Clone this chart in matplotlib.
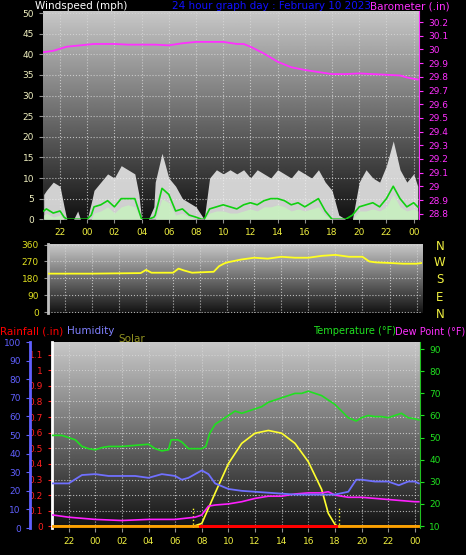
import matplotlib
matplotlib.use("Agg")
import matplotlib.pyplot as plt
import numpy as np

# hours since 00:00 of the previous day (24 = midnight)
hour_ticks = [22, 24, 26, 28, 30, 32, 34, 36, 38, 40, 42, 44, 46, 48]
hour_labels = ['22', '00', '02', '04', '06', '08', '10', '12', '14', '16', '18', '20', '22', '00']

# barometer (.in)
baro_t = [20.8, 21.5, 22.5, 23.5, 24.5, 26, 27, 28, 29, 30, 31, 32, 33, 34, 35, 35.5, 36, 37,
          38, 39, 40, 41, 42, 43, 44, 45, 46, 47, 47.5, 48.3]
baro = [29.98, 29.99, 30.02, 30.03, 30.04, 30.04, 30.035, 30.035, 30.035, 30.03, 30.045, 30.055,
        30.055, 30.055, 30.04, 30.04, 30.02, 29.97, 29.91, 29.87, 29.85, 29.835, 29.82, 29.82,
        29.825, 29.82, 29.815, 29.81, 29.795, 29.78]

# wind (mph), half hourly
wind_t = [20.8, 21.0, 21.5, 22.0, 22.3, 22.5, 23.0, 23.3, 23.5, 24.0, 24.3, 24.5, 25.0, 25.5, 26.0,
          26.5, 27.0, 27.5, 27.8, 28.0, 28.5, 28.9, 29.0, 29.5, 30.0, 30.5, 31.0, 31.5, 32.0, 32.4,
          32.6, 33.0, 33.5, 34.0, 34.5, 35.0, 35.5, 36.0, 36.5, 37.0, 37.5, 38.0, 38.5, 39.0, 39.5,
          40.0, 40.5, 41.0, 41.5, 42.0, 42.5, 43.0, 43.5, 44.0, 44.5, 45.0, 45.5, 46.0, 46.5, 47.0,
          47.5, 48.0, 48.3]
gust = [6, 7, 9, 8, 3, 0, 0, 2, 0, 0, 4, 7, 9, 11, 10, 13, 12, 11, 6, 0, 0, 3, 9, 16, 10, 8, 5, 4,
        3, 1, 0, 10, 12, 11, 12, 11, 12, 10, 12, 11, 10, 12, 11, 10, 12, 11, 10, 12, 9, 7, 1, 0, 0,
        9, 12, 10, 9, 13, 19, 12, 9, 11, 8]
avg = [2, 2.5, 1.5, 2, 0.5, 0, 0, 0, 0, 0, 1, 3, 3.5, 4.5, 3, 5, 5, 5, 2, 0, 0, 0.5, 1, 7.5, 6, 2,
       2.5, 1, 0.5, 0, 0, 2.5, 3, 3.5, 3, 2.5, 3.5, 4, 3.5, 4.5, 5, 5, 4.5, 3.5, 4, 3, 4, 5, 2, 0,
       0, 0, 1, 3, 3.5, 4, 3, 5, 8, 5, 3, 4, 3]
speed = [1, 1.5, 0.5, 1, 0, 0, 0, 0, 0, 0, 0, 1.5, 2, 3, 1.5, 3, 3.5, 3, 1, 0, 0, 0, 0, 5, 4, 1,
         1.5, 0.5, 0, 0, 0, 1.5, 2, 2, 1.5, 1.5, 2, 2.5, 2, 3, 3, 3.5, 3, 2, 2.5, 2, 2.5, 3, 1, 0,
         0, 0, 0, 2, 2, 2.5, 2, 3, 6, 3, 2, 2.5, 2]

# wind direction (deg)
dir_t = [20.8, 24, 27.6, 28, 28.4, 30, 30.4, 30.8, 31.4, 32, 33, 33.4, 33.8, 34, 35, 36, 37, 38, 39,
         40, 41, 42, 43, 44, 44.5, 45, 46, 47, 48, 48.4]
wind_dir = [205, 205, 208, 225, 210, 210, 232, 222, 210, 212, 215, 245, 260, 265, 280, 290, 285,
            295, 290, 290, 300, 305, 295, 295, 270, 265, 262, 258, 258, 262]

# temperature (F)
temp_t = [20.8, 21.5, 22.5, 23, 23.5, 24, 24.5, 25, 26, 27, 28, 28.5, 29, 29.5, 29.7, 30.2, 30.5,
          31, 31.5, 32, 32.3, 32.6, 33, 33.5, 34, 34.5, 35, 35.5, 36, 36.5, 37, 37.5, 38, 38.5,
          39, 39.5, 40, 40.5, 41, 41.5, 42, 42.5, 43, 43.6, 44, 44.5, 45, 45.5, 46, 46.5, 47,
          47.5, 48, 48.3]
temp = [51, 51, 49, 46, 45, 44.5, 45.5, 46, 46, 46.5, 47, 45, 44, 44.5, 49, 49, 48, 45, 45, 45,
        46, 52, 56, 58, 60, 62, 61, 62, 63, 64, 66, 67, 68, 69, 70, 70, 71, 70, 69, 67, 65, 62,
        59, 57.5, 59, 60, 59.5, 59.5, 59, 60, 61, 59, 58.5, 58]

# dew point (F)
dew_t = [20.8, 22, 24, 26, 28, 30, 31.5, 32, 32.5, 33, 34, 35, 36, 37, 38, 39, 40, 41, 41.5, 42,
         43, 44, 45, 46, 47, 48, 48.3]
dew = [15, 14, 13, 12.5, 13, 13, 14, 15, 19, 19.5, 20, 21, 22.5, 23.5, 23.5, 24.5, 25, 25, 25.5,
       24, 23, 23, 22.5, 22, 21.5, 21, 21]

# humidity (%)
hum_t = [20.8, 22, 23, 24, 25, 27, 28, 29, 30, 30.5, 31, 32, 32.5, 33, 34, 35, 36, 37, 38, 39, 40,
         41, 42, 43, 43.6, 44, 45, 46, 46.8, 47.5, 48, 48.3]
hum = [24, 24, 28.5, 29, 28, 28, 27, 29, 28, 26, 27, 31, 29, 24, 21, 20, 19.5, 19, 18.5, 18, 18,
       18, 18, 19.5, 26, 26, 25, 25, 23, 25, 25, 24]

# solar (W/m2)
solar_t = [20.8, 31.4, 32, 33, 34, 35, 36, 37, 38, 39, 40, 41, 41.5, 42, 42.2, 48.3]
solar = [0, 0, 15, 180, 340, 450, 505, 520, 505, 450, 350, 200, 70, 10, 0, 0]

# rainfall (.in)
rain_t = [31.9, 42.1]
rain = [0, 0]

fig = plt.figure(figsize=(4.66, 5.55), dpi=100, facecolor='black')
YEL = '#f0f040'
FS = 6.5


def background(ax):
    grad = np.linspace(0, 1, 256).reshape(-1, 1)
    ax.imshow(grad, aspect='auto', cmap='gray', vmin=-0.1, vmax=1.3, origin='lower',
              extent=(0, 1, 0, 1), transform=ax.transAxes, zorder=0)
    ax.set_facecolor('#303030')


def hour_axis(ax, labels=True):
    ax.set_xlim(20.75, 48.4)
    ax.set_xticks(hour_ticks)
    ax.set_xticklabels(hour_labels if labels else [], color=YEL, fontsize=FS)
    ax.grid(True, color='#d8d8d8', linestyle=':', linewidth=0.8, alpha=0.8)
    ax.tick_params(axis='x', colors='#909090', length=3, labelcolor=YEL)
    for s in ax.spines.values():
        s.set_visible(False)


# top: wind + barometer
ax1 = fig.add_axes([0.0923, 0.605, 0.807, 0.375])
background(ax1)
ax1.fill_between(wind_t, gust, color='#f0f0f0', alpha=0.85, zorder=2, linewidth=0)
ax1.fill_between(wind_t, speed, color='#c8f0c0', alpha=0.9, zorder=3, linewidth=0)
ax1.plot(wind_t, avg, color='#10d010', linewidth=1.2, zorder=4)
ax1.set_ylim(0, 50.5)
ax1.set_yticks(range(0, 51, 5))
ax1.tick_params(axis='y', colors='#909090', labelcolor='#f0f0c0', labelsize=FS, length=3)
hour_axis(ax1)
ax1b = ax1.twinx()
ax1b.plot(baro_t, baro, color='#ff30ff', linewidth=1.3)
ax1b.set_ylim(28.76, 30.28)
baro_ticks = np.round(np.arange(28.8, 30.21, 0.1), 1)
ax1b.set_yticks(baro_ticks)
ax1b.set_yticklabels([f'{v:g}' for v in baro_ticks])
ax1b.tick_params(axis='y', colors='#ff30ff', labelsize=FS, length=3)
for s in ax1b.spines.values():
    s.set_visible(False)
ax1b.spines['right'].set_visible(True)
ax1b.spines['right'].set_color('#ff30ff')

fig.text(0.075, 0.998, 'Windspeed (mph)', color='white', fontsize=7.5, va='top')
fig.text(0.37, 0.998, '24 hour graph day : February 10 2023', color='#1010ff', fontsize=7.5, va='top')
fig.text(0.795, 0.998, 'Barometer (.in)', color='#ff30ff', fontsize=7.5, va='top')

# middle: wind direction
ax2 = fig.add_axes([0.103, 0.436, 0.8026, 0.124])
background(ax2)
ax2.plot(dir_t, wind_dir, color='#ffff20', linewidth=1.3, zorder=3)
ax2.set_ylim(-5, 362)
ax2.set_yticks([0, 90, 180, 270, 360])
ax2.tick_params(axis='y', colors='#909090', labelcolor='#e0e020', labelsize=FS, length=3)
hour_axis(ax2, labels=False)
ax2.tick_params(axis='x', length=0)
ax2.spines['left'].set_visible(True)
ax2.spines['left'].set_color('#c0c0c0')
ax2.spines['left'].set_linewidth(2)
for lbl, yy in zip(['N', 'W', 'S', 'E', 'N'], [0.555, 0.527, 0.496, 0.464, 0.433]):
    fig.text(0.944, yy, lbl, color=YEL, fontsize=8.5, ha='center', va='center')

# bottom: rain / humidity / solar / temperature
ax3 = fig.add_axes([0.1116, 0.0486, 0.79, 0.335])
background(ax3)
hour_axis(ax3)
ax3.set_ylim(-0.01, 1.18)
ax3.set_yticks(np.round(np.arange(0, 1.11, 0.1), 1))
ax3.set_yticklabels([f'{v:g}' for v in np.round(np.arange(0, 1.11, 0.1), 1)])
ax3.tick_params(axis='y', colors='#ff2020', labelsize=FS, length=3)
ax3.spines['left'].set_visible(True)
ax3.spines['left'].set_color('white')
ax3.spines['left'].set_linewidth(2)

ax3s = ax3.twinx()
ax3s.plot(solar_t, solar, color='#ffff30', linewidth=1.2, zorder=4)
ax3s.axvline(31.35, ymax=0.12, color='#ffff30', linestyle=':', linewidth=1)
ax3s.axvline(42.3, ymax=0.12, color='#ffff30', linestyle=':', linewidth=1)
ax3s.set_ylim(-10, 1000)
ax3s.set_yticks([])
for s in ax3s.spines.values():
    s.set_visible(False)

ax3t = ax3.twinx()
ax3t.plot(temp_t, temp, color='#20e020', linewidth=1.2)
ax3t.plot(dew_t, dew, color='#ff20ff', linewidth=1.2)
ax3t.plot([20.8, 48.3], [10, 10], color='#ffa000', linewidth=2)
ax3t.set_ylim(9.1, 93.2)
ax3t.set_yticks(range(10, 91, 10))
ax3t.tick_params(axis='y', colors='#20e020', labelsize=FS, length=3)
for s in ax3t.spines.values():
    s.set_visible(False)
ax3t.spines['right'].set_visible(True)
ax3t.spines['right'].set_color('#20c020')

ax3h = ax3.twinx()
ax3h.plot(hum_t, hum, color='#7070ff', linewidth=1.3)
ax3h.set_ylim(0, 100)
ax3h.set_yticks(range(0, 101, 10))
ax3h.yaxis.set_ticks_position('left')
ax3h.yaxis.set_label_position('left')
for s in ax3h.spines.values():
    s.set_visible(False)
ax3h.spines['left'].set_visible(True)
ax3h.spines['left'].set_position(('outward', 16))
ax3h.spines['left'].set_color('#6060ff')
ax3h.spines['left'].set_linewidth(2)
ax3h.tick_params(axis='y', colors='#6060ff', labelcolor='#6060ff', labelsize=FS, length=3)

# rain drawn last, on top of the orange base line
ax3r = ax3.twinx()
ax3r.plot(rain_t, rain, color='red', linewidth=2.2)
ax3r.set_ylim(-0.01, 1.18)
ax3r.set_yticks([])
for s in ax3r.spines.values():
    s.set_visible(False)

fig.text(0.0, 0.412, 'Rainfall (.in)', color='red', fontsize=7.5, va='top')
fig.text(0.143, 0.412, 'Humidity', color='#8080ff', fontsize=7.5, va='top')
fig.text(0.255, 0.398, 'Solar', color='#909020', fontsize=7.5, va='top')
fig.text(0.672, 0.412, 'Temperature (°F)', color='#20e020', fontsize=7, va='top')
fig.text(0.848, 0.412, 'Dew Point (°F)', color='#ff30ff', fontsize=7, va='top')

fig.savefig('out.png', dpi=100, facecolor='black')
